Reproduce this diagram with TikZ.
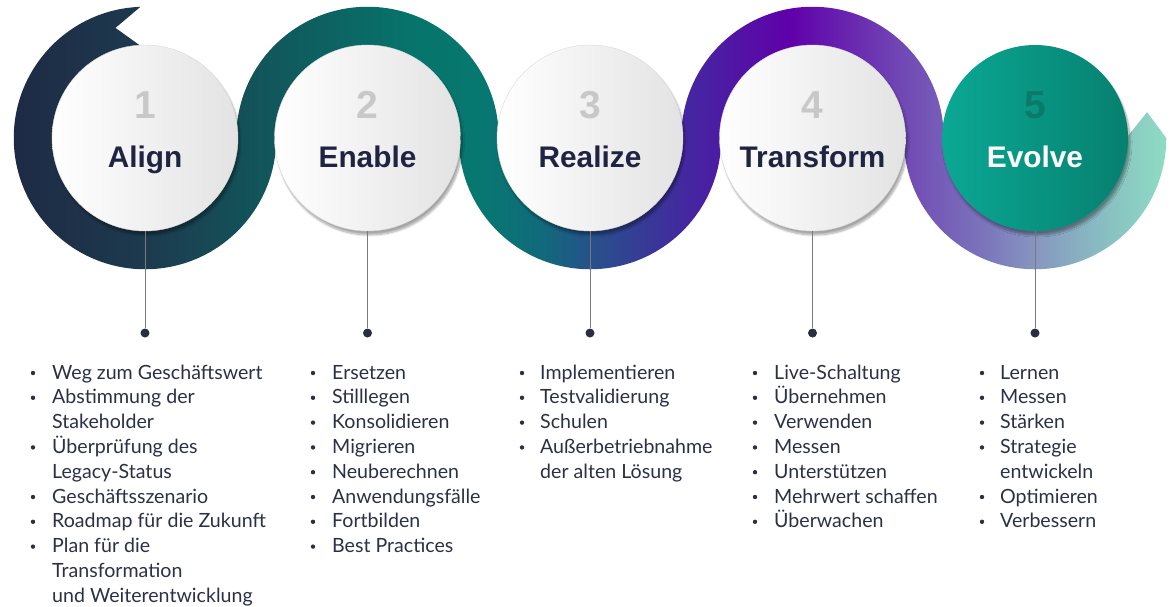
\documentclass[tikz,border=0pt]{standalone}
\usepackage{fontspec}
\setmainfont{Lato}
\newfontfamily\headfont{Liberation Sans}
\usetikzlibrary{shadows.blur}

\definecolor{bA}{HTML}{1E2A45}
\definecolor{bB}{HTML}{1D3A4E}
\definecolor{bC}{HTML}{12545A}
\definecolor{bD}{HTML}{06756B}
\definecolor{bE}{HTML}{077870}
\definecolor{bF}{HTML}{0F6B7A}
\definecolor{bG}{HTML}{2A4E8C}
\definecolor{bH}{HTML}{4427A0}
\definecolor{bI}{HTML}{6000AA}
\definecolor{bJ}{HTML}{7046B4}
\definecolor{bK}{HTML}{7A72BA}
\definecolor{bL}{HTML}{8799C0}
\definecolor{bM}{HTML}{88BCC2}
\definecolor{bN}{HTML}{8EDCC3}
\definecolor{headnavy}{HTML}{1F2442}
\definecolor{itemnavy}{HTML}{2B3047}
\definecolor{numgray}{HTML}{C8C8C8}
\definecolor{evA}{HTML}{0AA894}
\definecolor{evB}{HTML}{07806F}
\definecolor{evnum}{HTML}{0B7A6B}
\definecolor{stemgray}{HTML}{7A7A7A}

\pgfdeclarehorizontalshading{bandshade}{100bp}{color(0bp)=(bA); color(25bp)=(bA);
  color(30.8bp)=(bB); color(35.6bp)=(bC); color(42.6bp)=(bD); color(45.2bp)=(bE);
  color(47.8bp)=(bF); color(50.4bp)=(bG); color(54.3bp)=(bH); color(58.7bp)=(bI);
  color(63.4bp)=(bJ); color(66.9bp)=(bK); color(69.5bp)=(bL); color(72.1bp)=(bM);
  color(75bp)=(bN); color(100bp)=(bN)}

\tikzset{
  stage/.style={circle, minimum size=186pt, inner sep=0pt, draw=gray!30, line width=0.4pt,
    left color=white, right color=gray!22,
    blur shadow={shadow xshift=2pt, shadow yshift=-4pt, shadow opacity=35, shadow blur steps=8}},
  laststage/.style={stage, draw=none, left color=evA, right color=evB},
  numtxt/.style={anchor=base, inner sep=0pt, text=numgray, font=\headfont\bfseries\fontsize{39}{39}\selectfont},
  titletxt/.style={anchor=base, inner sep=0pt, text=headnavy, font=\headfont\bfseries\fontsize{29.8}{29.8}\selectfont},
  itemtxt/.style={anchor=base west, inner sep=0pt, text=itemnavy, font=\fontsize{19.6}{19.6}\selectfont},
  dot/.style={circle, fill=itemnavy!95!black, inner sep=0pt, minimum size=9pt},
  stem/.style={draw=stemgray, line width=0.8pt}
}

\begin{document}
\begin{tikzpicture}[x=1pt,y=1pt]
\useasboundingbox (0,0) rectangle (1172,-606);
% centres of the five stages
\coordinate (c1) at (145,-138);
\coordinate (c2) at (367.5,-138);
\coordinate (c3) at (590,-138);
\coordinate (c4) at (812.5,-138);
\coordinate (c5) at (1035,-138);
% the winding band
\path[shading=bandshade, shading angle=0]
  ([shift={(92:131.25)}]c1) arc[start angle=92, end angle=360, radius=131.25]
  arc[start angle=180, end angle=0, radius=91.25]
  arc[start angle=180, end angle=360, radius=131.25]
  arc[start angle=180, end angle=0, radius=91.25]
  arc[start angle=180, end angle=360, radius=131.25]
  -- ([shift={(13:115)}]c5) -- ([shift={(0:91.25)}]c5)
  arc[start angle=360, end angle=180, radius=91.25]
  arc[start angle=0, end angle=180, radius=131.25]
  arc[start angle=360, end angle=180, radius=91.25]
  arc[start angle=0, end angle=180, radius=131.25]
  arc[start angle=360, end angle=92, radius=91.25]
  -- ([shift={(105:114)}]c1) -- cycle;
% stages
\node[stage] (s1) at (c1) {};
\node[stage] (s2) at (c2) {};
\node[stage] (s3) at (c3) {};
\node[stage] (s4) at (c4) {};
\node[laststage] (s5) at (c5) {};
\node[numtxt] (n1) at ([yshift=20]c1) {1};
\node[numtxt] (n2) at ([yshift=20]c2) {2};
\node[numtxt] (n3) at ([yshift=20]c3) {3};
\node[numtxt] (n4) at ([yshift=20]c4) {4};
\node[numtxt, text=evnum] (n5) at ([yshift=20]c5) {5};
\node[titletxt] (t1) at ([yshift=-29]c1) {Align};
\node[titletxt] (t2) at ([yshift=-29]c2) {Enable};
\node[titletxt] (t3) at ([yshift=-29]c3) {Realize};
\node[titletxt] (t4) at ([yshift=-29]c4) {Transform};
\node[titletxt, text=white] (t5) at ([yshift=-29]c5) {Evolve};
% stems and dots
\node[dot] (d1) at (145,-333) {};
\node[dot] (d2) at (367.5,-333) {};
\node[dot] (d3) at (590,-333) {};
\node[dot] (d4) at (812.5,-333) {};
\node[dot] (d5) at (1035,-333) {};
\draw[stem] (s1) -- (d1);
\draw[stem] (s2) -- (d2);
\draw[stem] (s3) -- (d3);
\draw[stem] (s4) -- (d4);
\draw[stem] (s5) -- (d5);
% lists
\foreach \t/\b [count=\i from 0] in {Weg zum Geschäftswert/1, Abstimmung der/1, Stakeholder/0,
  Überprüfung des/1, Legacy-Status/0, Geschäftsszenario/1, Roadmap für die Zukunft/1,
  Plan für die/1, Transformation/0, und Weiterentwicklung/0}
{
  \node[itemtxt] (a\i) at (52,-379-24.8*\i) {\t};
  \ifnum\b=1 \fill[itemnavy] (33,-373-24.8*\i) circle (2.2); \fi
}
\foreach \t [count=\i from 0] in {Ersetzen, Stilllegen, Konsolidieren, Migrieren,
  Neuberechnen, Anwendungsfälle, Fortbilden, Best Practices}
{
  \node[itemtxt] (b\i) at (332,-379-24.8*\i) {\t};
  \fill[itemnavy] (313,-373-24.8*\i) circle (2.2);
}
\foreach \t/\b [count=\i from 0] in {Implementieren/1, Testvalidierung/1, Schulen/1,
  Außerbetriebnahme/1, der alten Lösung/0}
{
  \node[itemtxt] (e\i) at (540,-379-24.8*\i) {\t};
  \ifnum\b=1 \fill[itemnavy] (522,-373-24.8*\i) circle (2.2); \fi
}
\foreach \t [count=\i from 0] in {Live-Schaltung, Übernehmen, Verwenden, Messen,
  Unterstützen, Mehrwert schaffen, Überwachen}
{
  \node[itemtxt] (f\i) at (774,-379-24.8*\i) {\t};
  \fill[itemnavy] (755,-373-24.8*\i) circle (2.2);
}
\foreach \t/\b [count=\i from 0] in {Lernen/1, Messen/1, Stärken/1, Strategie/1,
  entwickeln/0, Optimieren/1, Verbessern/1}
{
  \node[itemtxt] (g\i) at (1000,-379-24.8*\i) {\t};
  \ifnum\b=1 \fill[itemnavy] (982,-373-24.8*\i) circle (2.2); \fi
}
\end{tikzpicture}
\end{document}
